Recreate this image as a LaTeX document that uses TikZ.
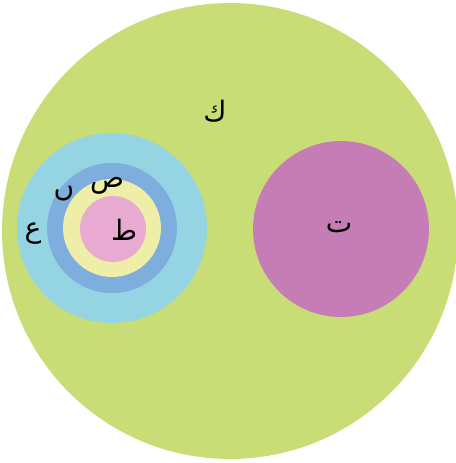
\documentclass[tikz,border=0pt]{standalone}
\usepackage{fontspec}
\newfontfamily\arabicfont[Script=Arabic]{DejaVu Sans}
\TeXXeTstate=1
\usetikzlibrary{positioning}
\definecolor{mGreen}{HTML}{C8DD75}
\definecolor{mSky}{HTML}{95D5E3}
\definecolor{mBlue}{HTML}{7EAEDD}
\definecolor{mYellow}{HTML}{EEEEA8}
\definecolor{mPink}{HTML}{E8AAD0}
\definecolor{mMagenta}{HTML}{C67DB6}

\begin{document}
\begin{tikzpicture}[x=0.02cm, y=-0.02cm,
  every node/.style={font=\arabicfont\fontsize{16}{18}\selectfont},
  disc/.style={circle, draw=none, inner sep=0pt},
  lbl/.style={inner sep=1pt},
]
  \useasboundingbox (0,0) rectangle (456,463);
  \node[disc, fill=mGreen, minimum size=9.12cm] (world) at (230,231) {};

  % nested discs on the left
  \node[disc, fill=mSky, minimum size=3.8cm] (ain) at (112,228) {};
  \node[disc, fill=mBlue, minimum size=2.6cm] (nun) at (112,228) {};
  \node[disc, fill=mYellow, minimum size=1.96cm] (sad) at (112,228) {};
  \node[disc, fill=mPink, minimum size=1.32cm] (tah) at (113,229) {};

  % separate disc on the right
  \node[disc, fill=mMagenta, minimum size=3.52cm] (teh) at (341,229) {};

  % letters
  \node[lbl] (kafL) at (215,111) {\beginR ك\endR};
  \node[lbl] (tehL) at (339,227) {\beginR ت\endR};
  \node[lbl] (ainL) at (33,234) {\beginR ع\endR};
  \node[lbl] (nunL) at (64,194) {\beginR ں\endR};
  \node[lbl] (sadL) at (107,186) {\beginR ص\endR};
  \node[lbl] (tahL) at (124,230) {\beginR ط\endR};
\end{tikzpicture}
\end{document}
